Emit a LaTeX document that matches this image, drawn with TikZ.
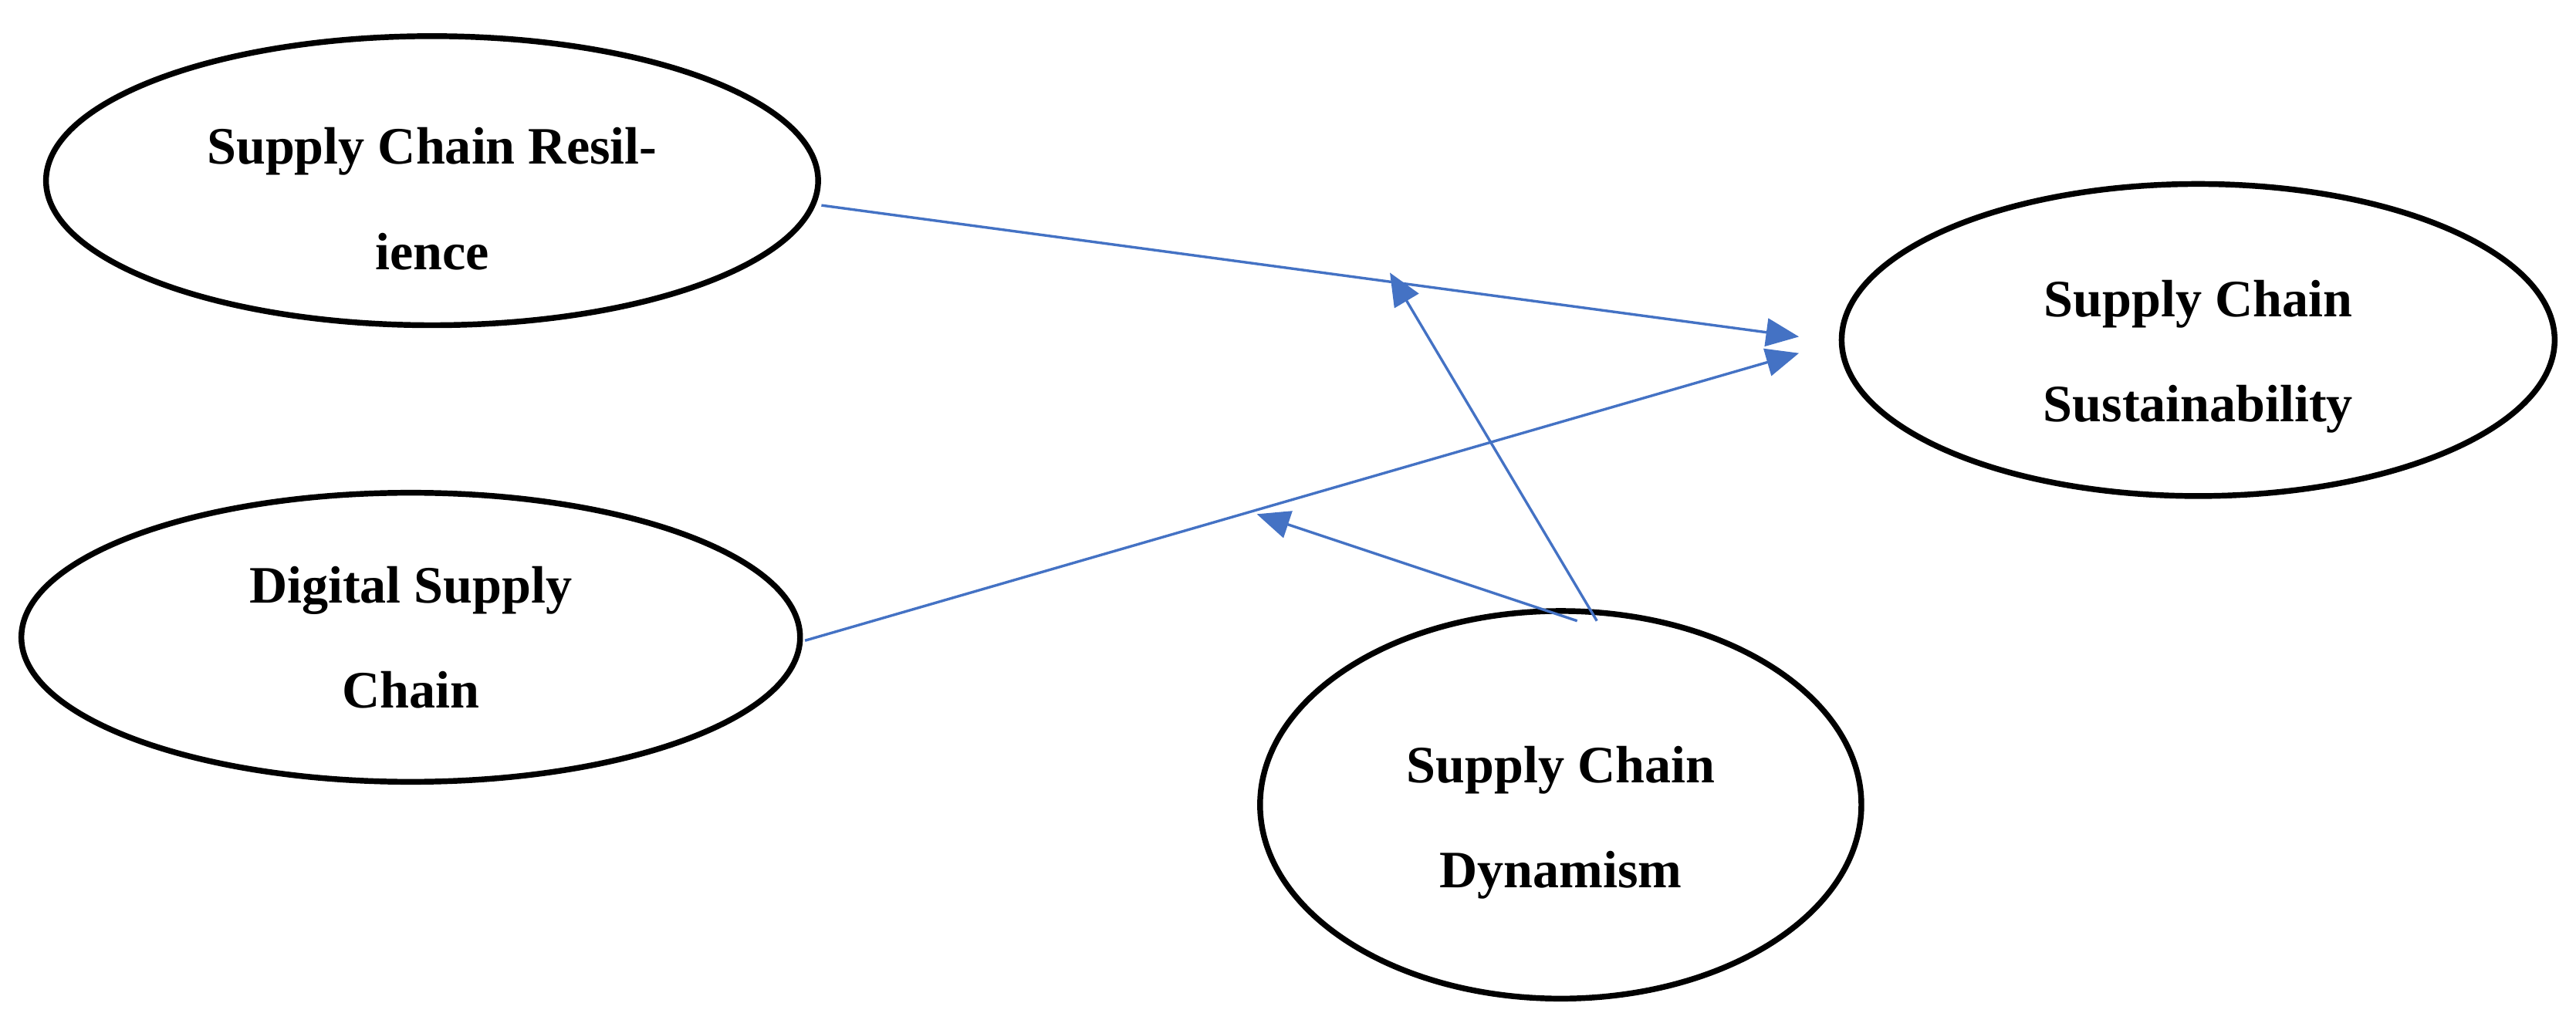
\documentclass[tikz,border=0pt]{standalone}
\usepackage{fontspec}
\setmainfont{Liberation Serif}
\usetikzlibrary{shapes.geometric,arrows.meta}
\definecolor{arr}{RGB}{68,114,196}
\begin{document}
\begin{tikzpicture}[x=1pt,y=-1pt,
  ell/.style={ellipse,draw=black,line width=3.5pt,inner sep=0pt},
  txt/.style={align=center,font=\fontsize{32}{64}\selectfont\bfseries},
  con/.style={draw=arr,line width=1.6pt,-{Triangle[length=20pt,width=17pt]}}]
\useasboundingbox (0,0) rectangle (1568,627);
\node[ell,minimum width=470pt,minimum height=176pt,label={[txt,yshift=-11pt]center:Supply Chain Resil-\\ience}] (scr) at (263,110) {};
\node[ell,minimum width=474pt,minimum height=176pt,label={[txt]center:Digital Supply\\Chain}] (dsc) at (250,388) {};
\node[ell,minimum width=434pt,minimum height=190pt,label={[txt,yshift=-10pt]center:Supply Chain\\Sustainability}] (scs) at (1338,207) {};
\node[ell,minimum width=366pt,minimum height=236pt,label={[txt,yshift=-11pt]center:Supply Chain\\Dynamism}] (scd) at (950,490) {};
\coordinate (a1) at (500,125);
\coordinate (a2) at (1095,205);
\coordinate (b1) at (490,390);
\coordinate (b2) at (1095,215);
\coordinate (m1) at (846,166);
\coordinate (m2) at (765,313);
\coordinate (s1) at (972,378);
\coordinate (s2) at (960,378);
\draw[con] (a1) -- (a2);
\draw[con] (b1) -- (b2);
\draw[con] (s1) -- (m1);
\draw[con] (s2) -- (m2);
\end{tikzpicture}
\end{document}
